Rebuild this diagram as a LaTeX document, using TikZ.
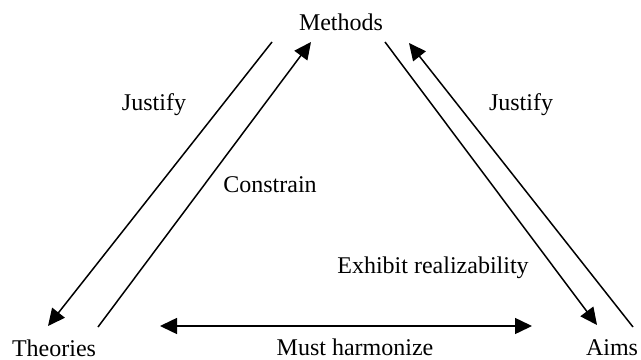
\documentclass[tikz,border=0pt]{standalone}
\usepackage{fontspec}
\setmainfont{Liberation Serif}
\usetikzlibrary{arrows.meta}

\begin{document}
\begin{tikzpicture}
  [x=10pt,y=10pt,line width=.75pt,
   every node/.style={inner sep=0pt,font=\fontsize{12}{14}\selectfont},
   tip/.style={-{Triangle[length=8.5pt,width=8pt]}},
   twotip/.style={{Triangle[length=8.5pt,width=8pt]}-{Triangle[length=8.5pt,width=8pt]}}]
  \useasboundingbox (0,0) rectangle (32.05,17.95);
  \node (meth) at (17.05,16.83) {Methods};
  \node (theo) at (2.7,0.55)    {Theories};
  \node (aims) at (30.6,0.55)   {Aims};
  \node (jl) at (7.7,12.7)      {Justify};
  \node (jr) at (26.05,12.7)    {Justify};
  \node (con) at (13.5,8.7)     {Constrain};
  \node (exh) at (21.65,4.55)   {Exhibit realizability};
  \node (har) at (17.75,0.6)    {Must harmonize};
  % line ends
  \coordinate (m1) at (13.6,15.85);
  \coordinate (m2) at (15.55,15.85);
  \coordinate (m3) at (19.25,15.85);
  \coordinate (m4) at (20.45,15.8);
  \coordinate (t1) at (2.4,1.65);
  \coordinate (t2) at (4.9,1.6);
  \coordinate (a1) at (29.85,1.7);
  \coordinate (a2) at (31.65,1.6);
  \coordinate (h1) at (8.0,1.65);
  \coordinate (h2) at (26.6,1.65);
  \foreach \from/\to in {m1/t1,t2/m2,m3/a1,a2/m4}
  \draw[tip] (\from) -- (\to);
  \draw[twotip] (h1) -- (h2);
\end{tikzpicture}
\end{document}
